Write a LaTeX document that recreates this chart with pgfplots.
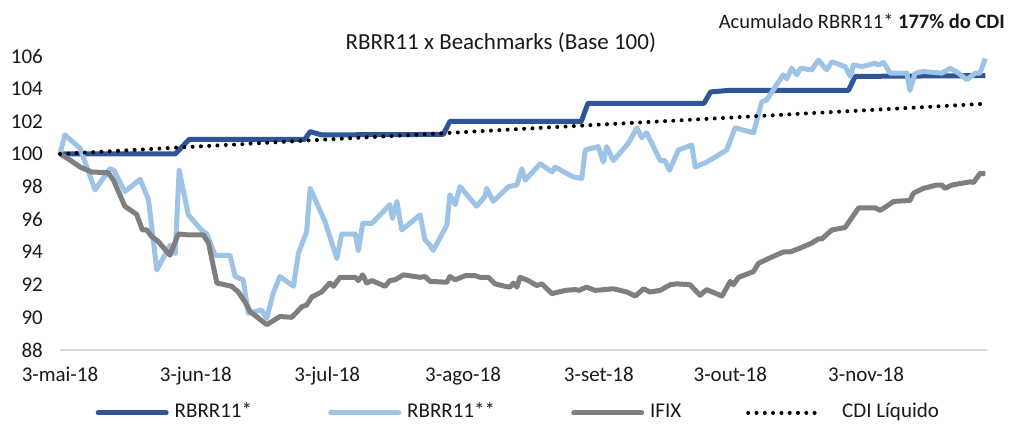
\documentclass[border=0pt]{standalone}
\usepackage{fontspec}
\setmainfont{Carlito}
\usepackage{pgfplots}
\pgfplotsset{compat=1.18}
\definecolor{dblue}{HTML}{2F5597}
\definecolor{lblue}{HTML}{9DC3E6}
\definecolor{ifix}{HTML}{7F7F7F}
\definecolor{axgray}{HTML}{D9D9D9}
\begin{document}
\begin{tikzpicture}
\path[use as bounding box] (0,0) rectangle (1009bp,425bp);
\begin{axis}[
 at={(60bp,75bp)}, anchor=south west,
 scale only axis, width=927bp, height=294bp,
 xmin=0, xmax=211.6, ymin=88, ymax=106,
 clip=false,
 axis lines*=left,
 x axis line style={draw=axgray, line width=1.5bp, -},
 y axis line style={draw=none, -},
 major tick length=0pt,
 xtick={0,31,61,92,123,153,184},
 xticklabels={3-mai-18,3-jun-18,3-jul-18,3-ago-18,3-set-18,3-out-18,3-nov-18},
 ytick={88,90,...,106},
 /pgf/number format/assume math mode=true,
 tick label style={font=\fontsize{21bp}{25bp}\selectfont, text=black!90},
 xticklabel style={anchor=base, yshift=-31bp, inner sep=0pt},
 yticklabel style={anchor=east, xshift=-17bp, inner sep=0pt},
 title={RBRR11 x Beachmarks (Base 100)},
 title style={at={(0.4755,1.0034)}, anchor=base, font=\fontsize{23bp}{27bp}\selectfont, inner sep=0pt, text=black!90},
 legend columns=4,
 legend style={at={(0.0383,-0.214)}, anchor=west, draw=none, fill=none, inner sep=0pt,
   font=\fontsize{21bp}{25bp}\selectfont, text=black!90,
   nodes={inner sep=0pt, text height=13.5bp, text depth=3.5bp},
   /tikz/every odd column/.append style={column sep=6bp},
   /tikz/every even column/.append style={column sep=0pt}},
 legend image code/.code={\draw[#1, line cap=round] (2.5bp,0bp) -- (70.5bp,0bp);},
]
% RBRR11*
\addplot[dblue, line width=5bp, line join=round] coordinates {
(0,100) (26.3,100) (29.5,100.9) (55.9,100.9) (57.1,101.37) (59.7,101.17) (87.5,101.2) (89,102.0) (119,102.0) (120.5,103.1) (147,103.1) (148.5,103.8) (153,103.9) (180,103.9) (181.5,104.75) (211.2,104.8)
};
\addlegendentry{\makebox[153.5bp][l]{RBRR11*}}
% RBRR11**
\addplot[lblue, line width=5bp, line join=round] coordinates {
(0,100.0) (1.1,101.17) (4.6,100.35) (8.0,97.8) (11.4,99.1) (12.3,99.0) (14.8,97.7) (18.3,98.45) (20.2,97.2) (22.1,92.9) (25.1,94.4) (26.3,93.9) (27.2,99.0) (29.3,96.27) (32.3,95.35) (33.5,95.1) (35.4,93.8) (38.8,93.8) (40.0,92.5) (41.8,92.3) (43.0,90.25) (46.0,90.45) (47.2,89.94) (48.7,91.5) (50.2,92.5) (53.3,91.9) (54.4,93.9) (56.3,95.25) (57.1,97.9) (60.5,95.85) (63.2,93.6) (64.3,95.1) (67.4,95.1) (68.1,94.1) (69.1,95.75) (71.2,95.75) (75.3,96.9) (75.9,96.05) (76.9,97.1) (78.0,95.35) (82.2,96.27) (83.3,94.75) (84.5,94.4) (85.2,94.1) (88.3,95.65) (89.0,97.5) (90.2,96.9) (91.3,98.0) (95.1,96.8) (97.0,97.4) (97.4,97.9) (98.9,97.1) (102.4,98.0) (104.3,98.1) (105.4,99.1) (106.2,98.4) (109.6,99.4) (112.3,98.9) (113.0,99.2) (116.4,98.7) (117.2,98.6) (119.1,98.5) (119.9,100.25) (122.9,100.45) (124.0,99.5) (124.8,100.45) (126.3,99.6) (129.7,100.65) (131.7,101.6) (132.8,101.0) (133.9,101.3) (137.0,99.6) (138.1,99.6) (139.1,99.0) (141.2,100.25) (144.2,100.55) (145.0,99.2) (147.6,99.5) (152.2,100.25) (154.1,101.6) (158.3,101.3) (160.2,103.2) (161.3,103.3) (165.1,104.85) (165.9,104.6) (167.0,105.25) (168.2,104.85) (169.0,105.25) (171.6,105.15) (173.1,105.75) (175.0,105.15) (176.2,105.65) (179.2,105.35) (180.4,104.75) (181.1,105.45) (183.1,105.35) (186.0,105.55) (186.8,105.45) (188.0,105.6) (189.5,104.95) (193.3,104.95) (194.0,103.9) (195.2,104.95) (197.1,105.05) (201.3,104.95) (203.2,105.25) (205.1,104.95) (207.0,104.55) (208.9,104.95) (210.0,104.95) (211.2,105.85)
};
\addlegendentry{\makebox[164bp][l]{RBRR11**}}
% IFIX
\addplot[ifix, line width=5bp, line join=round] coordinates {
(0,100) (1.9,99.7) (4.6,99.2) (7.2,98.9) (11.0,98.85) (12.2,98.4) (14.8,96.8) (17.5,96.3) (18.8,95.35) (19.8,95.35) (20.9,94.95) (22.4,94.65) (25.1,93.8) (27.0,95.1) (29.3,95.05) (32.7,95.05) (33.9,94.55) (35.8,92.1) (39.2,91.9) (40.7,91.55) (42.2,90.95) (43.4,90.35) (47.2,89.55) (50.2,90.05) (52.9,90.0) (55.2,90.65) (56.3,90.75) (57.5,91.25) (59.7,91.55) (61.6,92.1) (62.4,91.9) (63.9,92.45) (67.4,92.45) (68.1,92.25) (69.1,92.6) (70.0,92.1) (71.2,92.25) (74.2,91.9) (75.3,92.25) (76.5,92.3) (78.4,92.6) (82.2,92.45) (83.3,92.5) (84.5,92.2) (88.3,92.15) (89.0,92.5) (90.2,92.3) (92.5,92.55) (94.8,92.55) (95.9,92.45) (97.8,92.45) (99.3,92.05) (101.6,91.9) (102.7,91.85) (103.5,92.1) (104.3,91.85) (105.0,92.45) (106.9,92.25) (108.8,91.95) (110.0,92.05) (111.9,91.55) (112.3,91.45) (115.3,91.65) (117.6,91.7) (118.5,91.65) (120.2,91.85) (122.1,91.65) (124.4,91.7) (126.3,91.75) (129.4,91.55) (131.3,91.3) (133.2,91.75) (134.7,91.55) (137.0,91.65) (139.3,92.0) (140.8,92.05) (143.8,92.0) (146.1,91.35) (147.6,91.7) (151.1,91.3) (153.0,92.2) (153.7,92.0) (154.9,92.45) (158.3,92.8) (159.4,93.3) (161.7,93.6) (165.1,94.0) (166.6,94.0) (168.6,94.2) (171.6,94.55) (173.1,94.8) (173.9,94.8) (176.2,95.35) (179.2,95.5) (182.3,96.7) (186.1,96.7) (187.2,96.55) (188.7,96.8) (190.3,97.1) (194.0,97.15) (194.8,97.6) (197.1,97.9) (200.1,98.1) (201.3,98.1) (202.0,97.9) (203.6,98.1) (207.8,98.3) (208.5,98.25) (210.0,98.8) (211.2,98.8)
};
\addlegendentry{\makebox[96bp][l]{IFIX}}
% CDI
\addplot[black, line width=4bp, line cap=round, dash pattern=on 0bp off 8.3bp] coordinates {
(0,100) (21,100.31) (42,100.61) (63,100.92) (84,101.22) (105,101.53) (126,101.84) (147,102.14) (168,102.45) (189,102.75) (210,103.06)
};
\addlegendentry{\hspace{18bp}CDI Líquido}
\end{axis}
\node[anchor=east, inner sep=0pt, font=\fontsize{20.5bp}{24bp}\selectfont, text=black!90] at (1005bp,403.3bp) {Acumulado RBRR11* \textbf{177\% do CDI}};
\end{tikzpicture}
\end{document}
